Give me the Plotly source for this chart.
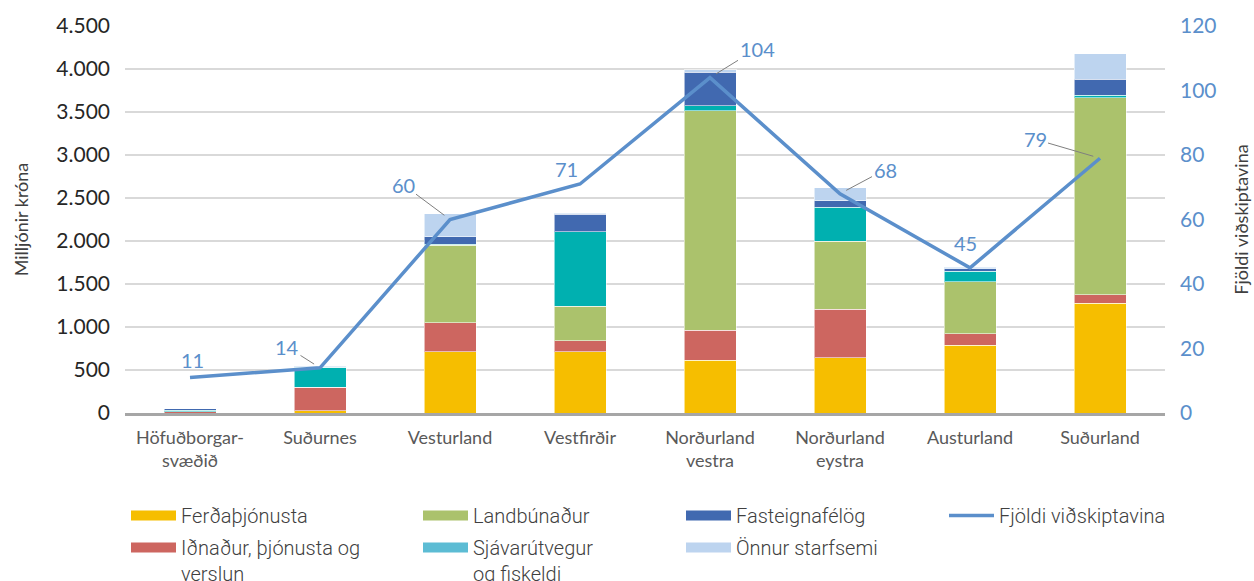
import plotly.graph_objects as go

# ---------------------------------------------------------------------------
# Data
# ---------------------------------------------------------------------------
regions = [
    "Höfuðborgar-<br>svæðið",
    "Suðurnes",
    "Vesturland",
    "Vestfirðir",
    "Norðurland<br>vestra",
    "Norðurland<br>eystra",
    "Austurland",
    "Suðurland",
]

# million ISK, bottom-to-top stacking order
ferdathjonusta = [0, 25, 710, 710, 615, 645, 785, 1275]
idnadur = [12, 275, 340, 130, 345, 560, 135, 100]
landbunadur = [0, 0, 900, 400, 2555, 790, 605, 2290]
sjavarutvegur = [18, 230, 15, 865, 60, 400, 125, 30]
fasteignafelog = [20, 0, 85, 205, 390, 75, 30, 185]
onnur = [0, 15, 265, 10, 25, 150, 17, 300]

# number of clients (right axis)
fjoldi = [11, 14, 60, 71, 104, 68, 45, 79]

# label offsets (pixels): (ax, ay, leader line?)
label_offsets = [
    (2, -18, False),
    (-33, -21, True),
    (-47, -35, True),
    (-14, -15, False),
    (47, -29, True),
    (45, -24, True),
    (-5, -25, False),
    (-65, -19, True),
]

# ---------------------------------------------------------------------------
# Colours / fonts
# ---------------------------------------------------------------------------
C_FERD = "#F6BE00"
C_IDN = "#CD6660"
C_LAND = "#ABC26C"
C_SJAV = "#00B0B0"
C_SJAV_LEG = "#5CBCD4"
C_FAST = "#4169B0"
C_ONN = "#BDD4EF"
C_LINE = "#5B8FCB"

FONT = "Lato"
LEG_FONT = dict(family="Roboto", size=20, color="#404040", weight=300)

# plot area in pixels, used to place the legend columns
PX_L, PX_R, PX_T, PX_B = 125, 1165, 26, 413

# (name, values, bar colour, legend colour, legend id)
series = [
    ("Ferðaþjónusta", ferdathjonusta, C_FERD, C_FERD, "legend"),
    ("Iðnaður, þjónusta og<br>verslun", idnadur, C_IDN, C_IDN, "legend2"),
    ("Landbúnaður", landbunadur, C_LAND, C_LAND, "legend3"),
    ("Sjávarútvegur<br>og fiskeldi", sjavarutvegur, C_SJAV, C_SJAV_LEG, "legend4"),
    ("Fasteignafélög", fasteignafelog, C_FAST, C_FAST, "legend5"),
    ("Önnur starfsemi", onnur, C_ONN, C_ONN, "legend6"),
]

# legend column/row positions (left x, top y) in pixels
legend_pos = {
    "legend": (126, 496),
    "legend2": (126, 528),
    "legend3": (418, 496),
    "legend4": (418, 528),
    "legend5": (681, 496),
    "legend6": (681, 528),
    "legend7": (944, 496),
}

fig = go.Figure()

for name, vals, color, leg_color, leg in series:
    fig.add_trace(
        go.Bar(
            x=regions,
            y=vals,
            name=name,
            marker=dict(color=color, line=dict(color="rgba(255,255,255,0.55)", width=1)),
            width=0.4,
            showlegend=False,
            hoverinfo="skip",
        )
    )

fig.add_trace(
    go.Scatter(
        x=regions,
        y=fjoldi,
        name="Fjöldi viðskiptavina",
        mode="lines",
        line=dict(color=C_LINE, width=3.5),
        yaxis="y2",
        legend="legend7",
        hoverinfo="skip",
    )
)

# wide rectangular legend swatches like the original
for name, vals, color, leg_color, leg in series:
    fig.add_trace(
        go.Scatter(
            x=[None],
            y=[None],
            name=name,
            mode="lines",
            line=dict(color=leg_color, width=10),
            legend=leg,
            hoverinfo="skip",
        )
    )

# value labels on the line
annotations = []
for reg, val, (ax, ay, leader) in zip(regions, fjoldi, label_offsets):
    if leader:
        annotations.append(
            dict(
                x=reg, y=val, xref="x", yref="y2",
                text=str(val),
                showarrow=True, arrowhead=0, arrowwidth=1,
                arrowcolor="#7f7f7f", standoff=7,
                ax=ax, ay=ay,
                font=dict(family=FONT, size=20, color=C_LINE),
            )
        )
    else:
        annotations.append(
            dict(
                x=reg, y=val, xref="x", yref="y2",
                text=str(val), showarrow=False,
                xshift=ax, yshift=-ay,
                font=dict(family=FONT, size=20, color=C_LINE),
            )
        )

legends = {}
for leg, (px, py) in legend_pos.items():
    legends[leg] = dict(
        x=(px - PX_L) / (PX_R - PX_L),
        xanchor="left",
        y=(PX_B - py) / (PX_B - PX_T),
        yanchor="top",
        valign="top",
        font=LEG_FONT,
        itemwidth=45,
        bgcolor="rgba(0,0,0,0)",
    )

fig.update_layout(
    width=1254,
    height=581,
    margin=dict(l=PX_L, r=1254 - PX_R, t=PX_T, b=581 - PX_B, autoexpand=False),
    paper_bgcolor="white",
    plot_bgcolor="white",
    barmode="stack",
    separators=",.",
    font=dict(family=FONT, color="#404040"),
    annotations=annotations,
    xaxis=dict(
        tickfont=dict(family=FONT, size=18, color="#595959"),
        showline=True,
        linecolor="#A6A6A6",
        linewidth=3,
        ticks="",
        showgrid=False,
        ticklabelstandoff=6,
    ),
    yaxis=dict(
        range=[0, 4500],
        dtick=500,
        tickformat=",d",
        tickfont=dict(family=FONT, size=21, color="#262626"),
        ticklabelstandoff=14,
        gridcolor="#D9D9D9",
        gridwidth=1.5,
        zeroline=False,
        title=dict(text="Milljónir króna", font=dict(family=FONT, size=18, color="#404040"), standoff=23),
    ),
    yaxis2=dict(
        range=[0, 120],
        dtick=20,
        overlaying="y",
        side="right",
        showgrid=False,
        zeroline=False,
        tickfont=dict(family=FONT, size=21, color=C_LINE),
        ticklabelstandoff=14,
        title=dict(text="Fjöldi viðskiptavina", font=dict(family=FONT, size=18, color="#404040"), standoff=19),
    ),
    **legends,
)

fig.write_html(
    "out.html",
    config={"displayModeBar": False},
    post_script="document.body.style.margin = '0';",
)
